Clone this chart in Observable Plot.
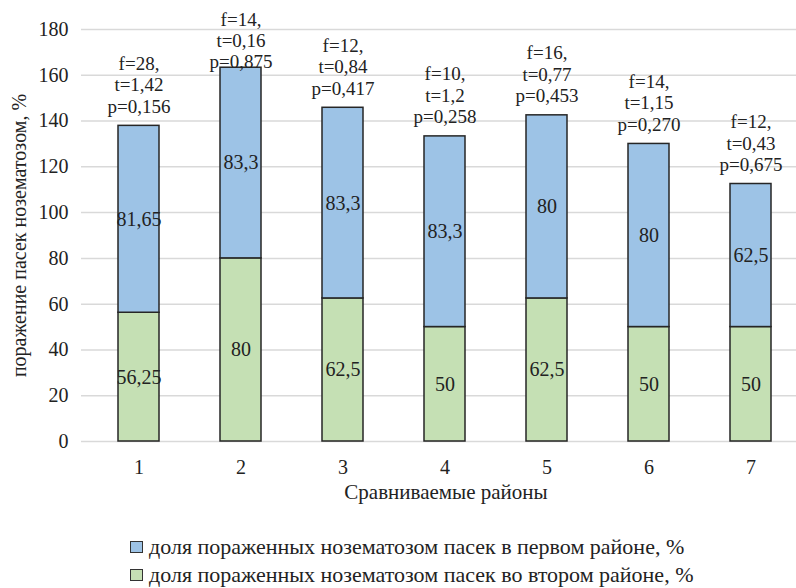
<!DOCTYPE html>
<html><head><meta charset="utf-8">
<script src="https://cdn.jsdelivr.net/npm/d3@7"></script>
<script src="https://cdn.jsdelivr.net/npm/@observablehq/plot@0.6"></script>
<style>
body{margin:0;background:#fff;font-family:"Liberation Serif","Tinos","Times New Roman","DejaVu Serif",serif;overflow:hidden;}
#legend{position:relative;height:73px;font-size:22px;color:#222;}
.item{position:absolute;left:130px;display:flex;align-items:center;height:24px;line-height:24px;white-space:nowrap;}
.sw{width:11px;height:10px;border:1.5px solid #333;margin-right:6px;}
svg text{font-family:"Liberation Serif","Tinos","Times New Roman","DejaVu Serif",serif !important;}
</style></head><body>
<div id="chart"></div>
<div id="legend"></div>
<script>
const districts = [1, 2, 3, 4, 5, 6, 7];
const secondDistrict = [56.25, 80, 62.5, 50, 62.5, 50, 50];
const firstDistrict = [81.65, 83.3, 83.3, 83.3, 80, 80, 62.5];
const fValues = [28, 14, 12, 10, 16, 14, 12];
const tValues = ["1,42", "0,16", "0,84", "1,2", "0,77", "1,15", "0,43"];
const pValues = ["0,156", "0,875", "0,417", "0,258", "0,453", "0,270", "0,675"];
const yTicks = [0, 20, 40, 60, 80, 100, 120, 140, 160, 180];
const seriesNames = [
  "доля пораженных нозематозом пасек в первом районе, %",
  "доля пораженных нозематозом пасек во втором районе, %"
];
const seriesColors = ["#9dc3e6", "#c5e0b4"];
const xTitle = "Сравниваемые районы";
const yTitle = "поражение пасек нозематозом, %";

const fontStack = "'Liberation Serif', 'Tinos', 'Times New Roman', 'DejaVu Serif', serif";
const fmt = v => String(v).replace(".", ",");
const rows = [];
districts.forEach((d, i) => {
  rows.push({district: d, series: seriesNames[1], value: secondDistrict[i], base: 0, top: secondDistrict[i]});
  rows.push({district: d, series: seriesNames[0], value: firstDistrict[i], base: secondDistrict[i], top: secondDistrict[i] + firstDistrict[i]});
});
const annots = districts.map((d, i) => ({
  district: d,
  total: secondDistrict[i] + firstDistrict[i],
  label: `f=${fValues[i]},\nt=${tValues[i]}\np=${pValues[i]}`
}));

const chart = Plot.plot({
  width: 796, height: 515,
  marginTop: 29, marginBottom: 74, marginLeft: 81, marginRight: 0,
  style: {fontFamily: fontStack, fontSize: "20px", color: "#222", background: "#fff", overflow: "visible"},
  x: {type: "band", domain: districts, range: [86, 802.5], paddingInner: 0.6, paddingOuter: 0.3},
  y: {domain: [0, 180]},
  color: {domain: seriesNames, range: seriesColors},
  marks: [
    Plot.gridY(yTicks, {stroke: "#d9d9d9", strokeOpacity: 1, strokeWidth: 1.5}),
    Plot.axisY({ticks: yTicks, tickSize: 0, tickPadding: 13, fontSize: 20, label: yTitle, labelAnchor: "center", labelOffset: 70, labelArrow: "none"}),
    Plot.axisX({tickSize: 0, tickPadding: 18, fontSize: 20, label: null}),
    Plot.text([xTitle], {frameAnchor: "bottom", dx: 7, dy: 57, fontSize: 21, fill: "#222"}),
    Plot.barY(rows, {x: "district", y1: "base", y2: "top", fill: "series", stroke: "#262626", strokeWidth: 1.5}),
    Plot.text(rows, {x: "district", y: d => d.base + d.value / 2, text: d => fmt(d.value), fontSize: 20, fill: "#222"}),
    Plot.text(annots, {x: "district", y: d => Math.min(d.total, 157.3), dy: -13, lineAnchor: "bottom", text: "label", lineHeight: 1.13, fontSize: 19, fill: "#222"})
  ]
});
document.getElementById("chart").appendChild(chart);

const legend = document.getElementById("legend");
seriesNames.forEach((name, i) => {
  const item = document.createElement("div");
  item.className = "item";
  item.style.top = (i === 0 ? 20 : 48) + "px";
  const sw = document.createElement("span");
  sw.className = "sw";
  sw.style.background = seriesColors[i];
  const tx = document.createElement("span");
  tx.textContent = name;
  item.appendChild(sw);
  item.appendChild(tx);
  legend.appendChild(item);
});
</script>
</body></html>
